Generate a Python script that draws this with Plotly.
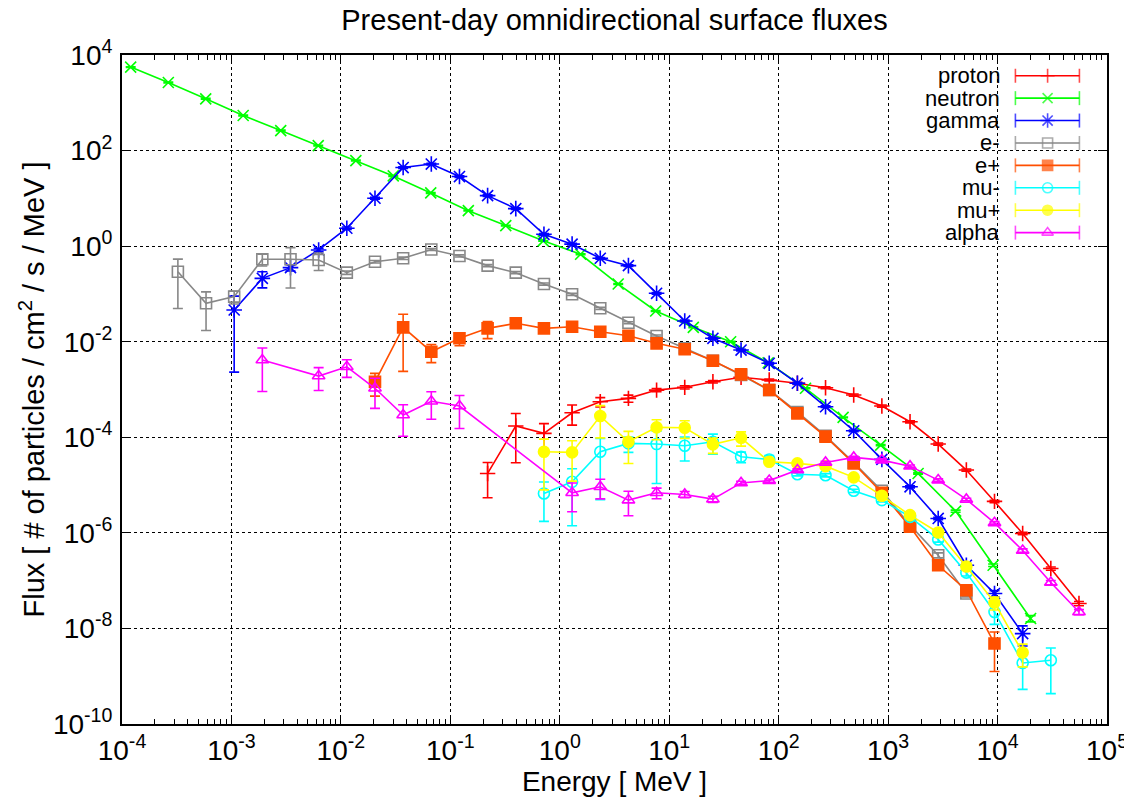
import plotly.graph_objects as go

# ---------------- data ----------------
# energy grid (MeV) shared by most species (index 0 -> first point of e-)
E_FINE = [3.24e-4, 5.86e-4, 1.059e-3, 1.915e-3, 3.464e-3, 6.262e-3, 1.133e-2, 2.049e-2,
          3.705e-2, 6.701e-2, 0.1212, 0.2191, 0.3963, 0.7167, 1.296, 2.344, 4.239, 7.666,
          13.86, 25.07, 45.34, 81.99, 148.3, 268.1, 484.9, 876.9, 1586, 2868, 5186, 9378,
          16960, 30670, 55460]
# neutron energy grid (MeV)
E_NEUTRON = [1.20e-4, 2.65e-4, 5.82e-4, 1.28e-3, 2.82e-3, 6.21e-3, 1.37e-2, 3.01e-2, 6.62e-2,
             0.146, 0.321, 0.706, 1.55, 3.42, 7.52, 16.6, 36.4, 80.2, 176, 388, 855, 1880,
             4140, 9110, 20040]

proton_start = 11
proton = [1.75e-5, 1.72e-4, 1.21e-4, 3.26e-4, 5.53e-4, 6.53e-4, 9.72e-4, 1.11e-3, 1.45e-3,
          1.80e-3, 1.58e-3, 1.35e-3, 1.09e-3, 7.66e-4, 4.50e-4, 2.11e-4, 7.21e-5, 2.06e-5,
          4.55e-6, 9.7e-7, 1.79e-7, 3.32e-8]
proton_err = [0.69, 0.83, 0.6, 0.45, 0.22, 0.17, 0.08, 0.08, 0.06, 0.06, 0.05, 0.05, 0.05,
              0.05, 0.05, 0.05, 0.05, 0.05, 0.06, 0.06, 0.08, 0.1]

neutron = [5585, 2655, 1211, 541, 262, 127, 61.8, 29.5, 13.0, 5.53, 2.69, 1.29, 0.676, 0.161,
           0.0439, 0.02, 0.01, 3.63e-3, 1.06e-3, 2.61e-4, 6.87e-5, 1.75e-5, 2.85e-6, 2.10e-7,
           1.61e-8]
neutron_err = [0.02] * 20 + [0.03, 0.04, 0.05, 0.06, 0.15]

gamma_start = 2
gamma = [0.0461, 0.212, 0.355, 0.832, 2.37, 10.07, 44.1, 52.2, 28.6, 11.4, 6.10, 1.77, 1.10,
         0.558, 0.391, 0.103, 0.0272, 0.01178, 6.70e-3, 3.53e-3, 1.35e-3, 4.36e-4, 1.37e-4,
         3.45e-5, 9.2e-6, 2.0e-6, 2.10e-7, 5.38e-8, 7.8e-9]
gamma_err = [0.95, 0.37, 0.15, 0.08, 0.06, 0.05, 0.04, 0.04, 0.04, 0.04, 0.04, 0.04, 0.04,
             0.04, 0.04, 0.04, 0.04, 0.04, 0.04, 0.04, 0.04, 0.04, 0.04, 0.05, 0.05, 0.06,
             0.1, 0.15, 0.45]

electron_start = 0
electron = [0.292, 0.0637, 0.0877, 0.532, 0.532, 0.514, 0.279, 0.473, 0.557, 0.851, 0.624,
            0.391, 0.279, 0.161, 0.0984, 0.05, 0.025, 0.01315, 7.28e-3, 4.0e-3, 2.01e-3,
            9.75e-4, 3.39e-4, 1.07e-4, 2.95e-5, 7.59e-6, 1.45e-6, 3.41e-7, 5.37e-8]
electron_err = [0.83, 0.73, 0.3, 0.28, 0.75, 0.4, 0.08, 0.06, 0.06, 0.05, 0.05, 0.05, 0.05,
                0.05, 0.05, 0.05, 0.05, 0.05, 0.05, 0.05, 0.05, 0.05, 0.05, 0.05, 0.06, 0.06,
                0.08, 0.12, 0.15]

positron_start = 7
positron = [1.45e-3, 0.02, 6.18e-3, 0.01178, 0.01905, 0.02427, 0.01905, 0.0206, 0.01618,
            0.01337, 9.25e-3, 6.93e-3, 4.0e-3, 2.07e-3, 9.75e-4, 3.17e-4, 1.03e-4, 2.84e-5,
            6.89e-6, 1.34e-6, 2.10e-7, 6.31e-8, 4.83e-9]
positron_err = [0.5, 0.88, 0.41, 0.3, 0.39, 0.17, 0.08, 0.06, 0.06, 0.05, 0.05, 0.05, 0.05,
                0.05, 0.05, 0.05, 0.05, 0.06, 0.06, 0.08, 0.1, 0.15, 0.74]

muminus_start = 13
muminus = [6.68e-6, 1.17e-5, 4.97e-5, 7.45e-5, 7.21e-5, 6.64e-5, 8.05e-5, 3.91e-5, 3.44e-5,
           1.69e-5, 1.61e-5, 7.59e-6, 4.84e-6, 2.16e-6, 7.28e-7, 1.47e-7, 2.21e-8, 1.89e-9,
           2.16e-9]
muminus_err = [0.74, 0.88, 0.9, 0.35, 0.85, 0.52, 0.45, 0.25, 0.2, 0.08, 0.08, 0.08, 0.08,
               0.1, 0.12, 0.15, 0.45, 0.72, 0.8]

muplus_start = 13
muplus = [4.97e-5, 4.83e-5, 2.78e-4, 8.05e-5, 1.61e-4, 1.58e-4, 7.10e-5, 9.75e-5, 3.07e-5,
          2.84e-5, 2.49e-5, 1.45e-5, 5.96e-6, 2.35e-6, 1.02e-6, 1.97e-7, 3.48e-8, 3.13e-9]
muplus_err = [0.84, 0.75, 0.65, 0.65, 0.45, 0.4, 0.35, 0.33, 0.1, 0.08, 0.08, 0.08, 0.08,
              0.1, 0.12, 0.15, 0.3, 0.5]

alpha_start = 3
alpha = [4.14e-3, None, 1.91e-3, 2.99e-3, 1.06e-3, 2.92e-4, 5.68e-4, 4.50e-4, None, None, None,
         6.89e-6, 9.2e-6, 4.84e-6, 6.89e-6, 6.37e-6, 5.08e-6, 1.11e-5, 1.24e-5, 2.06e-5,
         2.98e-5, 3.79e-5, 3.33e-5, 2.49e-5, 1.27e-5, 5.01e-6, 1.62e-6, 4.27e-7, 9.14e-8,
         2.21e-8]
alpha_err = [0.78, 0, 0.5, 0.4, 0.62, 0.64, 0.58, 0.66, 0, 0, 0, 0.6, 0.44, 0.53, 0.25, 0.15,
             0.15, 0.08, 0.08, 0.06, 0.06, 0.06, 0.06, 0.06, 0.06, 0.06, 0.06, 0.08, 0.1, 0.12]

NAMES = ["proton", "neutron", "gamma", "e-", "e+", "mu-", "mu+", "alpha"]
COLORS = ["#ff0000", "#00ff00", "#0000ff", "#888888", "#ff4f00", "#00ffff", "#ffff00", "#ff00ff"]
SYMBOLS = ["cross-thin-open", "x-thin-open", "asterisk-open", "square-open", "square",
           "circle-open", "circle", "triangle-up-open"]
SIZES = [11, 11, 13, 11, 11, 11, 11, 11]

X_TICK_EXP = [-4, -3, -2, -1, 0, 1, 2, 3, 4, 5]
Y_TICK_EXP = [-10, -8, -6, -4, -2, 0, 2, 4]
MINOR_MULT = [2, 3, 4, 5, 6, 7, 8, 9]

series = [
    (E_FINE[proton_start:proton_start + len(proton)], proton, proton_err),
    (E_NEUTRON, neutron, neutron_err),
    (E_FINE[gamma_start:gamma_start + len(gamma)], gamma, gamma_err),
    (E_FINE[electron_start:electron_start + len(electron)], electron, electron_err),
    (E_FINE[positron_start:positron_start + len(positron)], positron, positron_err),
    (E_FINE[muminus_start:muminus_start + len(muminus)], muminus, muminus_err),
    (E_FINE[muplus_start:muplus_start + len(muplus)], muplus, muplus_err),
    (E_FINE[alpha_start:alpha_start + len(alpha)], alpha, alpha_err),
]

FONT = "Liberation Sans, Arial, sans-serif"

fig = go.Figure()
for (xs, ys, rel), name, col, sym, sz in zip(series, NAMES, COLORS, SYMBOLS, SIZES):
    errs = [None if y is None else y * r for y, r in zip(ys, rel)]
    fig.add_trace(go.Scatter(
        x=xs, y=ys, name=name, mode="lines+markers", connectgaps=True,
        line=dict(color=col, width=1.6),
        marker=dict(symbol=sym, size=sz, color=col, line=dict(color=col, width=1.6)),
        error_y=dict(type="data", array=errs, symmetric=True, color=col,
                     thickness=1.6, width=5),
        showlegend=False, xaxis="x", yaxis="y",
    ))

# ---------------- legend (gnuplot style: text left, sample right) ----------------
LEG_X = [0.907, 0.9397, 0.972]
LEG_TOP = 0.969
LEG_STEP = 0.0335
for i, (name, col, sym, sz) in enumerate(zip(NAMES, COLORS, SYMBOLS, SIZES)):
    yy = LEG_TOP - i * LEG_STEP
    fig.add_trace(go.Scatter(
        x=LEG_X, y=[yy] * 3, mode="lines+markers", showlegend=False, hoverinfo="skip",
        line=dict(color=col, width=1.6),
        marker=dict(symbol=["line-ns-open", sym, "line-ns-open"], size=[10, sz - 1, 10],
                    color=col, line=dict(color=col, width=1.6)),
        xaxis="x2", yaxis="y2",
    ))
    fig.add_annotation(x=0.8935, y=yy, xref="paper", yref="paper", text=name,
                       showarrow=False, xanchor="right", yanchor="middle",
                       font=dict(family=FONT, size=22, color="#000000"))

fig.add_shape(type="rect", xref="paper", yref="paper", x0=0.798, x1=1.0, y0=0.719, y1=1.0,
              fillcolor="white", line=dict(width=0), layer="between")

axis_common = dict(
    type="log", showline=True, linecolor="black", linewidth=2, mirror="ticks",
    ticks="inside", ticklen=9, tickwidth=1.2, tickcolor="black",
    showgrid=True, gridcolor="black", gridwidth=1, griddash="dot",
    zeroline=False, automargin=False, tickmode="array",
    tickfont=dict(family=FONT, size=28, color="black"),
)

x_minor = [m * 10.0 ** e for e in X_TICK_EXP[:-1] for m in MINOR_MULT]

# the page body adds an 8 px offset, so margins are shifted accordingly
fig.update_layout(
    width=1132, height=797,
    margin=dict(l=114, r=33, t=47, b=81),
    paper_bgcolor="white", plot_bgcolor="white",
    title=dict(text="Present-day omnidirectional surface fluxes", x=0.5, xref="paper",
               xanchor="center", y=0.985, yanchor="middle",
               font=dict(family=FONT, size=29, color="black")),
    xaxis=dict(axis_common, range=[-4, 5],
               tickvals=[10.0 ** e for e in X_TICK_EXP],
               ticktext=[f"10<sup>{e}</sup>" for e in X_TICK_EXP],
               ticklabelstandoff=0,
               minor=dict(ticks="inside", ticklen=5, tickcolor="black", tickmode="array",
                          tickvals=x_minor, showgrid=False),
               title=dict(text="Energy [ MeV ]", standoff=0,
                          font=dict(family=FONT, size=28, color="black"))),
    yaxis=dict(axis_common, range=[-10, 4],
               tickvals=[10.0 ** e for e in Y_TICK_EXP],
               ticktext=[f"10<sup>{e}</sup>" for e in Y_TICK_EXP],
               ticklabelstandoff=2,
               title=dict(text="Flux [ # of particles / cm<sup>2</sup> / s / MeV ]",
                          standoff=0, font=dict(family=FONT, size=29, color="black"))),
    xaxis2=dict(overlaying="x", range=[0, 1], visible=False, fixedrange=True),
    yaxis2=dict(overlaying="y", range=[0, 1], visible=False, fixedrange=True),
    xaxis3=dict(overlaying="x", side="top", type="log", range=[-4, 5], showgrid=False,
                showticklabels=False, showline=False, zeroline=False, automargin=False,
                ticks="inside", ticklen=9, tickcolor="black", tickwidth=1.2,
                tickmode="array", tickvals=[10.0 ** e for e in X_TICK_EXP],
                minor=dict(ticks="inside", ticklen=5, tickcolor="black", tickmode="array",
                           tickvals=x_minor, showgrid=False)),
    showlegend=False,
)
# invisible anchor trace so the top tick axis is drawn
fig.add_trace(go.Scatter(x=[E_FINE[0]], y=[neutron[0]], xaxis="x3", yaxis="y",
                         mode="markers", marker=dict(opacity=0), showlegend=False,
                         hoverinfo="skip"))

fig.write_html("out.html")
